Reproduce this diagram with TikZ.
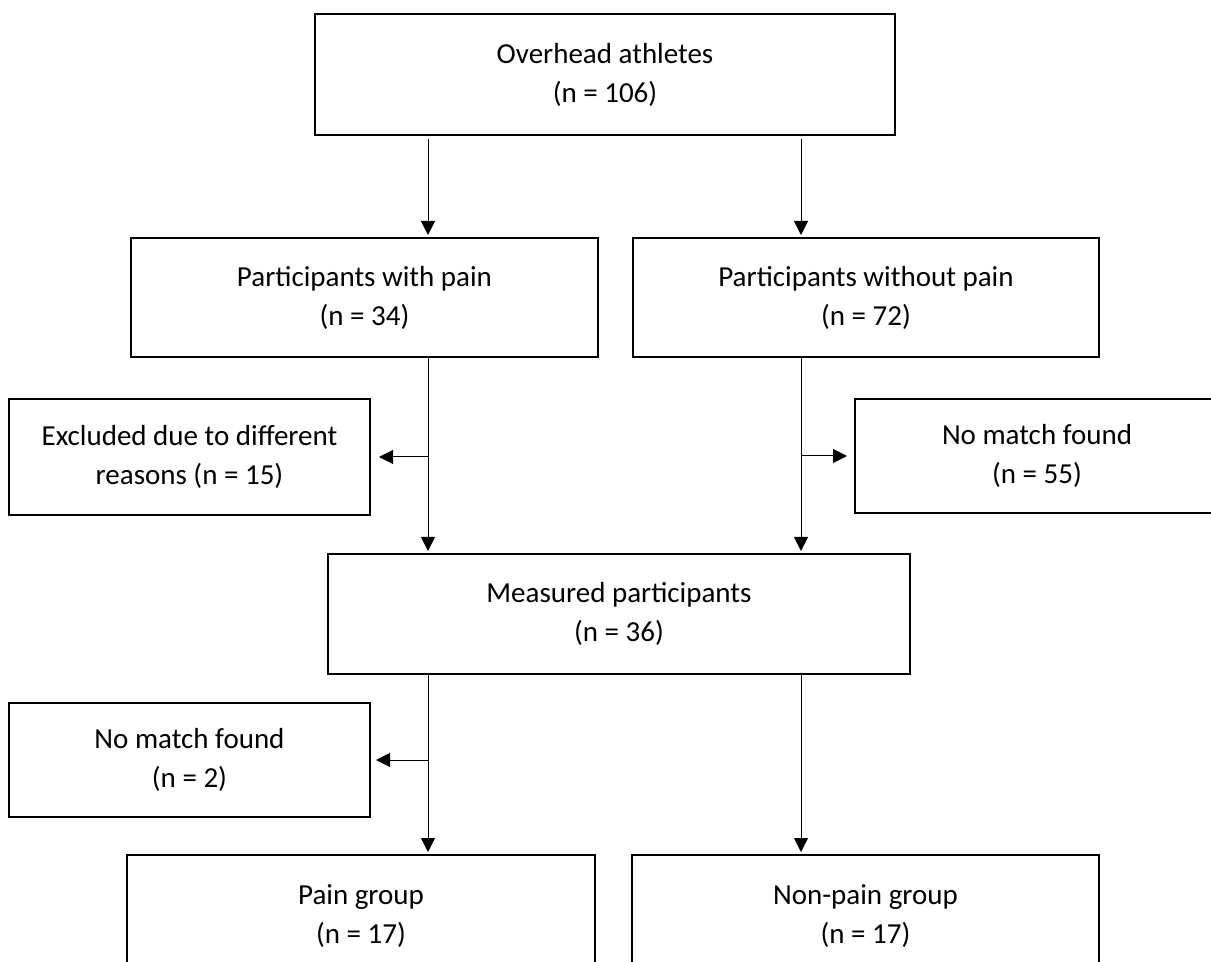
\documentclass[tikz,border=0pt]{standalone}
\usepackage{fontspec}
\setmainfont{Carlito}
\usetikzlibrary{arrows.meta}
\begin{document}
\begin{tikzpicture}[x=0.5pt,y=-0.5pt,
  box/.style={draw,line width=1pt,align=center,font=\fontsize{14.5}{19.5}\selectfont,inner sep=0pt,anchor=center},
  arr/.style={-{Triangle[length=7pt,width=7pt]},line width=0.5pt}]
\useasboundingbox (0,0) rectangle (1211,962);
\clip (0,0) rectangle (1211,962);
\node[box,minimum width=290pt,minimum height=60.5pt] (ov) at (605,74.5) {Overhead athletes\\(n = 106)};
\node[box,minimum width=233.5pt,minimum height=59.5pt] (pw) at (364.5,297.5) {Participants with pain\\(n = 34)};
\node[box,minimum width=233pt,minimum height=59.5pt] (po) at (866,297.5) {Participants without pain\\(n = 72)};
\node[box,minimum width=180.5pt,minimum height=58pt] (ex) at (189.5,457) {Excluded due to different\\reasons (n = 15)};
\node[box,minimum width=182pt,minimum height=57pt] (nm) at (1037,456) {No match found\\(n = 55)};
\node[box,minimum width=291pt,minimum height=60pt] (me) at (619,614) {Measured participants\\(n = 36)};
\node[box,minimum width=180.5pt,minimum height=57pt] (nl) at (189.5,760) {No match found\\(n = 2)};
\node[box,minimum width=234pt,minimum height=61.5pt] (pg) at (361,916.5) {Pain group\\(n = 17)};
\node[box,minimum width=233.5pt,minimum height=61.5pt] (ng) at (865.5,916.5) {Non-pain group\\(n = 17)};
\coordinate (a1) at (428,0);
\coordinate (a2) at (801,0);
\draw[arr] ([yshift=-1.5pt]a1 |- ov.south) -- ([yshift=1pt]a1 |- pw.north);
\draw[arr] ([yshift=-1.5pt]a2 |- ov.south) -- ([yshift=1pt]a2 |- po.north);
\draw[arr] (a1 |- pw.south) -- ([yshift=1pt]a1 |- me.north);
\draw[arr] (a2 |- po.south) -- ([yshift=1pt]a2 |- me.north);
\draw[arr] (a1 |- ex.east) -- ([xshift=4pt]ex.east);
\draw[arr] (a2 |- nm.west) -- ([xshift=-3.5pt]nm.west);
\draw[arr] (a1 |- me.south) -- ([yshift=1pt]a1 |- pg.north);
\draw[arr] (a2 |- me.south) -- ([yshift=1pt]a2 |- ng.north);
\draw[arr] (a1 |- nl.east) -- ([xshift=2.5pt]nl.east);
\end{tikzpicture}
\end{document}
